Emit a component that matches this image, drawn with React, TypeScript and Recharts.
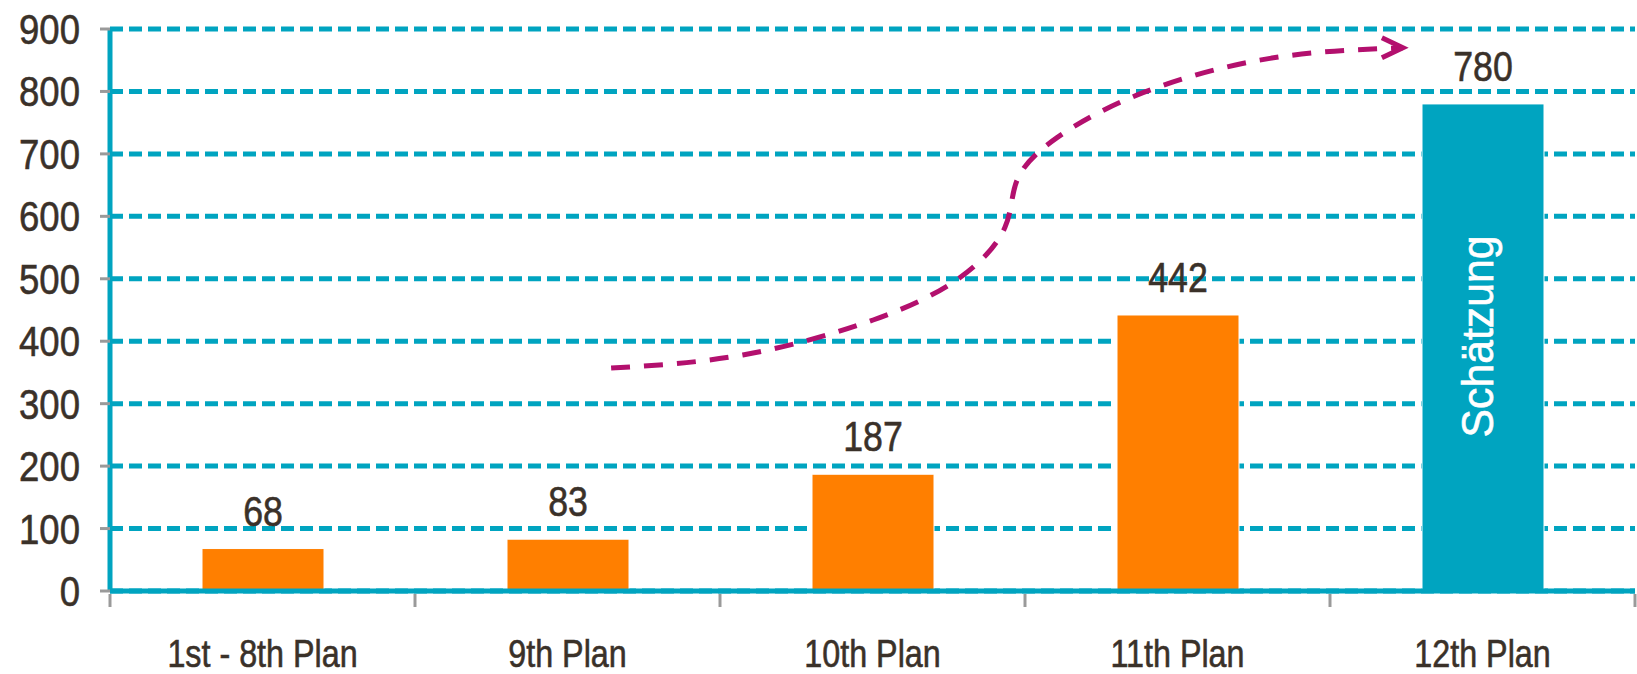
import React from "react";
import * as Recharts from "recharts";
import {
  BarChart,
  Bar,
  Cell,
  XAxis,
  YAxis,
  CartesianGrid,
  LabelList,
  Customized,
  Curve,
} from "recharts";

// ---- data ----
const categories = ["1st - 8th Plan", "9th Plan", "10th Plan", "11th Plan", "12th Plan"];
const capacity = [68, 83, 187, 442, 780];
const barNotes = ["", "", "", "", "Schätzung"];
const yTicks = [0, 100, 200, 300, 400, 500, 600, 700, 800, 900];

// growth arrow, in chart units: u = position along the category axis (0..5), v = value
const arrowU = [1.643, 2.075, 2.502, 2.787, 2.934, 2.974, 3.105, 3.387, 3.803, 4.239];
const arrowV = [357, 378, 434, 502, 582, 658, 726, 798, 853, 870];

const data = categories.map((name, i) => ({ name, value: capacity[i], note: barNotes[i] }));

const W = 1637;
const H = 674;
const MARGIN = { top: 29, right: 2, bottom: 0, left: 0 };
const Y_AXIS_W = 110;
const X_AXIS_H = 83;
const Y_MAX = 900;

const TEAL = "#00a4c0";
const ORANGE = "#ff7f00";
const MAGENTA = "#b3106e";
const TEXT = "#3a3129";
const TICK_GRAY = "#9a9a9a";
const FONT = "'Liberation Sans', Arial, sans-serif";
const SQUEEZE = 0.85; // the original uses a condensed face

const R: any = Recharts;
const FALLBACK_AREA = {
  x: MARGIN.left + Y_AXIS_W,
  y: MARGIN.top,
  width: W - MARGIN.left - MARGIN.right - Y_AXIS_W,
  height: H - MARGIN.top - MARGIN.bottom - X_AXIS_H,
};

function usePlot() {
  const pa = R.usePlotArea ? R.usePlotArea() : undefined;
  return pa && pa.width ? pa : FALLBACK_AREA;
}

function NarrowText({ x, y, size, anchor = "middle", children }: any) {
  return (
    <text
      transform={`translate(${x} ${y}) scale(${SQUEEZE} 1)`}
      textAnchor={anchor}
      fill={TEXT}
      stroke={TEXT}
      strokeWidth={0.6}
      fontSize={size}
      fontFamily={FONT}
    >
      {children}
    </text>
  );
}

function PlanTick(props: any) {
  const { x, y, payload, index } = props;
  const half = payload?.offset ?? FALLBACK_AREA.width / categories.length / 2;
  const marks = [x - half];
  if (index === categories.length - 1) marks.push(x + half);
  return (
    <g>
      {marks.map((mx) => (
        <line key={mx} x1={mx} x2={mx} y1={y + 3} y2={y + 16} stroke={TICK_GRAY} strokeWidth={3} />
      ))}
      <NarrowText x={x} y={y + 76} size={38}>
        {payload.value}
      </NarrowText>
    </g>
  );
}

function ValueTick(props: any) {
  const { x, y, payload } = props;
  return (
    <NarrowText x={x + 2} y={y + 15} size={43} anchor="end">
      {payload.value}
    </NarrowText>
  );
}

function ValueLabel(props: any) {
  const { x, y, width, value } = props;
  return (
    <NarrowText x={x + width / 2} y={y - 23} size={42}>
      {value}
    </NarrowText>
  );
}

function NoteLabel(props: any) {
  const { x, y, width, height, value } = props;
  if (!value) return null;
  const cx = x + width / 2 - 6;
  const cy = y + height / 2 - 11;
  return (
    <text
      transform={`rotate(-90 ${cx} ${cy}) translate(${cx} ${cy}) scale(0.95 1)`}
      textAnchor="middle"
      dominantBaseline="central"
      fill="#ffffff"
      stroke="#ffffff"
      strokeWidth={0.6}
      fontSize={45}
      fontFamily={FONT}
    >
      {value}
    </text>
  );
}

function GrowthArrow() {
  const area = usePlot();
  const pts = arrowU.map((u, i) => ({
    x: area.x + (u / categories.length) * area.width,
    y: area.y + (1 - arrowV[i] / Y_MAX) * area.height,
  }));
  const tip = pts[pts.length - 1];
  return (
    <g>
      <Curve
        type="natural"
        points={pts}
        stroke={MAGENTA}
        strokeWidth={5}
        strokeDasharray="19 14"
        fill="none"
      />
      <polyline
        points={`${tip.x - 21},${tip.y - 10} ${tip.x},${tip.y} ${tip.x - 21},${tip.y + 10}`}
        stroke={MAGENTA}
        strokeWidth={5}
        fill="none"
      />
    </g>
  );
}

export default function App() {
  return (
    <div style={{ position: "absolute", left: 0, top: 0, width: W, height: H, background: "#fff" }}>
      <BarChart width={W} height={H} data={data} margin={MARGIN}>
        <CartesianGrid
          horizontal
          vertical={false}
          stroke={TEAL}
          strokeWidth={5}
          strokeDasharray="13 6"
        />
        <XAxis
          dataKey="name"
          height={X_AXIS_H}
          tickLine={false}
          tickSize={0}
          tickMargin={0}
          axisLine={{ stroke: TEAL, strokeWidth: 5 }}
          tick={<PlanTick />}
          interval={0}
        />
        <YAxis
          width={Y_AXIS_W}
          domain={[0, Y_MAX]}
          ticks={yTicks}
          interval={0}
          tickSize={10}
          tickMargin={22}
          tickLine={{ stroke: TICK_GRAY, strokeWidth: 3 }}
          axisLine={{ stroke: TEAL, strokeWidth: 5 }}
          tick={<ValueTick />}
        />
        <Bar dataKey="value" barSize={122} isAnimationActive={false} stroke="#ffffff" strokeWidth={1}>
          {data.map((d) => (
            <Cell key={d.name} fill={d.note ? TEAL : ORANGE} />
          ))}
          <LabelList dataKey="value" content={<ValueLabel />} />
          <LabelList dataKey="note" content={<NoteLabel />} />
        </Bar>
        <Customized component={GrowthArrow} />
      </BarChart>
    </div>
  );
}
